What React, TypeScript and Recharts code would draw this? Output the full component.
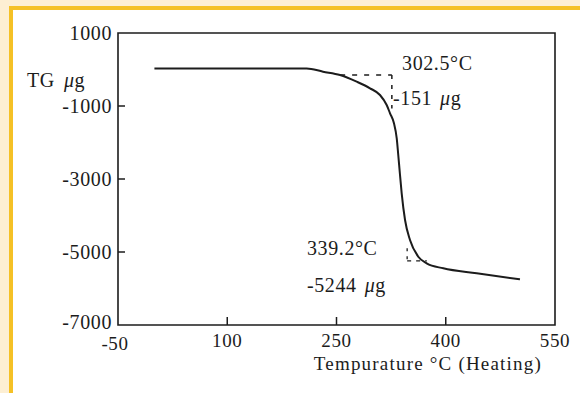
import { Label, Line, LineChart, ReferenceArea, ReferenceDot, ReferenceLine, XAxis, YAxis } from 'recharts';

// TG trace, temperature (°C) vs mass change (µg)
const TEMPS = [0, 186, 209, 231.5, 254.8, 277.7, 296, 309.7, 318.9, 323.5, 328.9, 332.7, 334.8, 337.2, 339.5, 344.1, 350.9, 362.3, 373.8, 396.6, 442.5, 501.9];
const MASS = [30, 30, 30, -60, -151, -334, -515, -699, -973, -1200, -1474, -1885, -2342, -2890, -3392, -4123, -4671, -5129, -5310, -5447, -5584, -5748];

const X_TICKS = [-50, 100, 250, 400, 550];
const Y_TICKS = [1000, -1000, -3000, -5000, -7000];

const ONSET_T = 302.5;
const ONSET_M = -151;
const END_T = 339.2;
const END_M = -5244;

const data = TEMPS.map((t, i) => ({ t, m: MASS[i] }));

const FONT = '"Liberation Serif", "Times New Roman", serif';
const INK = '#1c1c1c';
const txt = { fontFamily: FONT, fontSize: 20, fill: INK, letterSpacing: 0.6 };

const XTick = (props: any) => {
  const { x, y, payload } = props;
  const v = payload.value;
  const first = v === X_TICKS[0];
  const inner = !first && v !== X_TICKS[X_TICKS.length - 1];
  return (
    <g>
      {inner && <line x1={x} x2={x} y1={y} y2={y - 8} stroke={INK} strokeWidth={1.5} />}
      {/* the corner label sits a little lower and left so it clears -7000 */}
      <text x={first ? x - 3 : x} y={first ? y + 25 : y + 22} textAnchor="middle" {...txt} fontSize={19}>
        {v}
      </text>
    </g>
  );
};

const YTick = (props: any) => {
  const { x, y, payload } = props;
  const v = payload.value;
  const last = v === Y_TICKS[Y_TICKS.length - 1];
  const inner = !last && v !== Y_TICKS[0];
  return (
    <g>
      {inner && <line x1={x + 6} x2={x + 13} y1={y} y2={y} stroke={INK} strokeWidth={1.5} />}
      <text x={x} y={last ? y + 4 : y + 7} textAnchor="end" {...txt}>
        {v}
      </text>
    </g>
  );
};

const note = (first: string, unit?: boolean) => (p: any) => {
  const { x, y } = p.viewBox;
  return (
    <text x={x} y={y} dominantBaseline="central" {...txt}>
      {first}
      {unit && (
        <>
          <tspan dx={8} fontStyle="italic">μ</tspan>
          <tspan>g</tspan>
        </>
      )}
    </text>
  );
};

export default function App() {
  return (
    <div style={{ position: 'fixed', inset: 0, background: '#fdefd3' }}>
      <div
        style={{
          position: 'absolute',
          left: 9,
          top: 6,
          right: -10,
          bottom: -10,
          background: '#fff',
          borderLeft: '4px solid #f5c126',
          borderTop: '4px solid #f5c126',
        }}
      />
      <div style={{ position: 'absolute', left: 0, top: 0 }}>
        <LineChart width={580} height={393} data={data} margin={{ top: 33, right: 25, bottom: 0, left: 0 }}>
          <XAxis
            dataKey="t"
            type="number"
            domain={[-50, 550]}
            ticks={X_TICKS}
            interval={0}
            height={68}
            tickSize={0}
            tickMargin={0}
            axisLine={false}
            tick={<XTick />}
          >
            <Label
              content={(p: any) => (
                <text
                  x={p.viewBox.x + p.viewBox.width - 13}
                  y={p.viewBox.y + 45}
                  textAnchor="end"
                  {...txt}
                  fontSize={19}
                  letterSpacing={1.2}
                >
                  Tempurature °C (Heating)
                </text>
              )}
            />
          </XAxis>
          <YAxis
            type="number"
            domain={[-7000, 1000]}
            ticks={Y_TICKS}
            interval={0}
            width={118}
            tickSize={0}
            tickMargin={6}
            axisLine={false}
            tick={<YTick />}
          >
            <Label
              content={() => (
                <text x={27} y={87} {...txt}>
                  TG
                  <tspan dx={9} fontStyle="italic">μ</tspan>
                  <tspan>g</tspan>
                </text>
              )}
            />
          </YAxis>
          <ReferenceArea x1={-50} x2={550} y1={-7000} y2={1000} fill="none" stroke={INK} strokeWidth={1.6} />

          {/* onset / end construction lines */}
          <ReferenceLine segment={[{ x: 255, y: ONSET_M }, { x: 326, y: ONSET_M }]} stroke={INK} strokeWidth={1.5} strokeDasharray="5 7" />
          <ReferenceLine segment={[{ x: 326, y: ONSET_M }, { x: 326, y: -1070 }]} stroke={INK} strokeWidth={1.5} strokeDasharray="4 6" />
          <ReferenceLine segment={[{ x: 347, y: -4900 }, { x: 347, y: END_M }]} stroke={INK} strokeWidth={1.3} strokeDasharray="3 5" />
          <ReferenceLine segment={[{ x: 347, y: END_M }, { x: 374, y: END_M }]} stroke={INK} strokeWidth={1.3} strokeDasharray="4 5" />

          <Line
            dataKey="m"
            type="monotone"
            stroke={INK}
            strokeWidth={2}
            dot={false}
            isAnimationActive={false}
          />

          <ReferenceDot x={340} y={178} r={0} label={{ content: note(`${ONSET_T}°C`) }} />
          <ReferenceDot x={327.6} y={-781} r={0} label={{ content: note(`${ONSET_M}`, true) }} />
          <ReferenceDot x={209.5} y={-4890} r={0} label={{ content: note(`${END_T}°C`) }} />
          <ReferenceDot x={209.5} y={-5904} r={0} label={{ content: note(`${END_M}`, true) }} />
        </LineChart>
      </div>
    </div>
  );
}
